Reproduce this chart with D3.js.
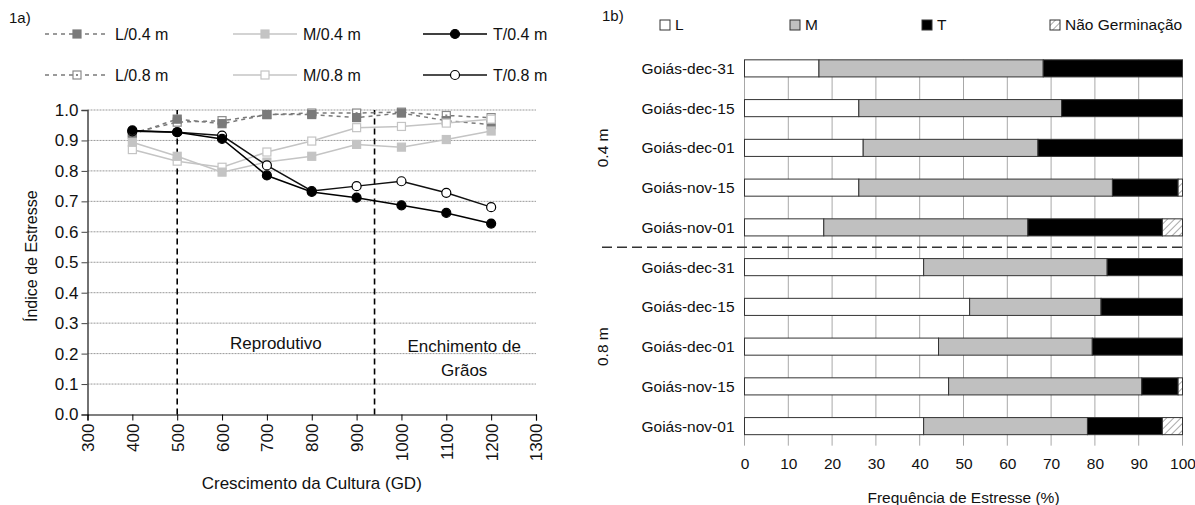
<!DOCTYPE html>
<html>
<head>
<meta charset="utf-8">
<script src="https://cdn.jsdelivr.net/npm/d3@7"></script>
<style>
  body { margin: 0; background: #fff; }
  svg { font-family: "Liberation Sans", Arial, sans-serif; }
</style>
</head>
<body>
<svg id="chart" width="1195" height="505"></svg>
<script>
// ---- 1a) stress index data ----
const gd = [400, 500, 600, 700, 800, 900, 1000, 1100, 1200];
const L04 = [0.92, 0.97, 0.955, 0.985, 0.985, 0.975, 0.99, 0.965, 0.952];
const M04 = [0.894, 0.848, 0.796, 0.829, 0.848, 0.887, 0.878, 0.903, 0.931];
const T04 = [0.933, 0.927, 0.905, 0.785, 0.731, 0.712, 0.687, 0.662, 0.627];
const L08 = [0.925, 0.96, 0.965, 0.985, 0.99, 0.99, 0.993, 0.982, 0.975];
const M08 = [0.87, 0.832, 0.812, 0.862, 0.898, 0.942, 0.946, 0.957, 0.97];
const T08 = [0.93, 0.927, 0.916, 0.818, 0.734, 0.75, 0.766, 0.728, 0.681];
const xTicks = [300, 400, 500, 600, 700, 800, 900, 1000, 1100, 1200, 1300];
const yTicks = [0, 0.1, 0.2, 0.3, 0.4, 0.5, 0.6, 0.7, 0.8, 0.9, 1.0];
const phaseLines = [500, 940];

// ---- 1b) stress frequency data ----
const dates = ["Goiás-dec-31", "Goiás-dec-15", "Goiás-dec-01", "Goiás-nov-15", "Goiás-nov-01"];
const depths = ["0.4 m", "0.8 m"];
const freqL04 = [17.0, 26.1, 27.1, 26.1, 18.1];
const freqM04 = [51.2, 46.3, 39.9, 57.9, 46.6];
const freqT04 = [31.8, 27.6, 33.0, 15.0, 30.7];
const freqN04 = [0, 0, 0, 1.0, 4.6];
const freqL08 = [40.9, 51.4, 44.3, 46.6, 40.9];
const freqM08 = [41.9, 30.0, 35.1, 44.1, 37.4];
const freqT08 = [17.2, 18.6, 20.6, 8.3, 17.1];
const freqN08 = [0, 0, 0, 1.0, 4.6];
const freqTicks = [0, 10, 20, 30, 40, 50, 60, 70, 80, 90, 100];

const svg = d3.select("#chart");

const defs = svg.append("defs");
const hatch = defs.append("pattern")
  .attr("id", "hatch")
  .attr("patternUnits", "userSpaceOnUse")
  .attr("width", 5).attr("height", 5)
  .attr("patternTransform", "rotate(45)");
hatch.append("rect").attr("width", 5).attr("height", 5).attr("fill", "#fff");
hatch.append("line").attr("x1", 0).attr("y1", 0).attr("x2", 0).attr("y2", 5)
  .attr("stroke", "#aaa").attr("stroke-width", 2);

// =================== LEFT PANEL ===================
const x = d3.scaleLinear().domain([300, 1300]).range([87.5, 536]);
const y = d3.scaleLinear().domain([0, 1]).range([414.5, 110]);

const left = svg.append("g");

// grid
left.append("g").selectAll("line")
  .data(yTicks.filter(d => d > 0))
  .enter().append("line")
  .attr("x1", x(300)).attr("x2", x(1300))
  .attr("y1", d => y(d)).attr("y2", d => y(d))
  .attr("stroke", "#999")
  .attr("stroke-dasharray", "2,1");

// axes
const yAxis = left.append("g")
  .attr("transform", "translate(" + x(300) + ",0)")
  .call(d3.axisLeft(y).tickValues(yTicks).tickFormat(d3.format(".1f")).tickSizeOuter(0).tickSize(6));
yAxis.select(".domain").attr("stroke", "#444").attr("stroke-width", 1.5);
yAxis.selectAll(".tick line").attr("stroke", "#444");
yAxis.selectAll("text").style("font-size", "17px").attr("fill", "#111").attr("x", -9);

const xAxis = left.append("g")
  .attr("transform", "translate(0," + y(0) + ")")
  .call(d3.axisBottom(x).tickValues(xTicks).tickFormat(d3.format("d")).tickSizeOuter(0).tickSize(6));
xAxis.select(".domain").attr("stroke", "#000").attr("stroke-width", 1.2);
xAxis.selectAll(".tick line").attr("stroke", "#000");
xAxis.selectAll("text")
  .style("font-size", "17px")
  .attr("fill", "#111")
  .attr("transform", "rotate(-90)")
  .attr("text-anchor", "end")
  .attr("x", -9).attr("y", 0).attr("dy", "0.35em");

// phase lines
left.append("g").selectAll("line")
  .data(phaseLines)
  .enter().append("line")
  .attr("x1", d => x(d)).attr("x2", d => x(d))
  .attr("y1", y(0)).attr("y2", y(1))
  .attr("stroke", "#000")
  .attr("stroke-width", 1.6)
  .attr("stroke-dasharray", "6,4");

left.append("text").attr("x", x(720)).attr("y", y(0.215))
  .attr("text-anchor", "middle").style("font-size", "17px").attr("fill", "#111").text("Reprodutivo");
left.append("text").attr("x", x(1140)).attr("y", y(0.205))
  .attr("text-anchor", "middle").style("font-size", "17px").attr("fill", "#111").text("Enchimento de");
left.append("text").attr("x", x(1140)).attr("y", y(0.128))
  .attr("text-anchor", "middle").style("font-size", "17px").attr("fill", "#111").text("Grãos");

left.append("text")
  .attr("transform", "translate(37," + y(0.52) + ") rotate(-90)")
  .attr("text-anchor", "middle").style("font-size", "16px").attr("fill", "#111")
  .text("Índice de Estresse");
left.append("text").attr("x", x(800)).attr("y", 489)
  .attr("text-anchor", "middle").style("font-size", "17px").attr("fill", "#111")
  .text("Crescimento da Cultura (GD)");

left.append("text").attr("x", 9).attr("y", 23).style("font-size", "15px").attr("fill", "#111").text("1a)");

// series
const series = [
  {name: "L/0.4 m", values: L04, line: "#7a7a7a", dash: "4,4", marker: "square", fill: "#7a7a7a", stroke: "#7a7a7a"},
  {name: "M/0.4 m", values: M04, line: "#c4c4c4", dash: null, marker: "square", fill: "#c4c4c4", stroke: "#c4c4c4"},
  {name: "T/0.4 m", values: T04, line: "#000", dash: null, marker: "circle", fill: "#000", stroke: "#000"},
  {name: "L/0.8 m", values: L08, line: "#7a7a7a", dash: "4,4", marker: "dotsquare", fill: "#fff", stroke: "#8a8a8a"},
  {name: "M/0.8 m", values: M08, line: "#c4c4c4", dash: null, marker: "square", fill: "#fff", stroke: "#c4c4c4"},
  {name: "T/0.8 m", values: T08, line: "#111", dash: null, marker: "circle", fill: "#fff", stroke: "#000"}
];

function drawMarker(g, s, cx, cy) {
  if (s.marker === "circle") {
    g.append("circle").attr("cx", cx).attr("cy", cy).attr("r", 4.5)
      .attr("fill", s.fill).attr("stroke", s.stroke).attr("stroke-width", 1.2);
  } else {
    g.append("rect").attr("x", cx - 4).attr("y", cy - 4).attr("width", 8).attr("height", 8)
      .attr("fill", s.fill).attr("stroke", s.stroke).attr("stroke-width", 1.2);
    if (s.marker === "dotsquare") {
      g.append("rect").attr("x", cx - 1).attr("y", cy - 1).attr("width", 2).attr("height", 2)
        .attr("fill", s.stroke);
    }
  }
}

const line = d3.line().x((d, i) => x(gd[i])).y(d => y(d));
const drawOrder = [3, 0, 4, 1, 5, 2];
drawOrder.forEach(k => {
  const s = series[k];
  const g = left.append("g");
  g.append("path").attr("d", line(s.values))
    .attr("fill", "none").attr("stroke", s.line).attr("stroke-width", 1.5)
    .attr("stroke-dasharray", s.dash);
  s.values.forEach((v, i) => drawMarker(g, s, x(gd[i]), y(v)));
});

// legend
const legCols = [45, 233, 423];
const legRows = [34, 75];
series.forEach((s, k) => {
  const lx = legCols[k % 3], ly = legRows[Math.floor(k / 3)];
  const g = left.append("g");
  g.append("line").attr("x1", lx).attr("x2", lx + 64).attr("y1", ly).attr("y2", ly)
    .attr("stroke", s.line).attr("stroke-width", 1.5).attr("stroke-dasharray", s.dash);
  drawMarker(g, s, lx + 32, ly);
  g.append("text").attr("x", lx + 70).attr("y", ly).attr("dy", "0.35em")
    .style("font-size", "16px").attr("fill", "#111").text(s.name);
});

// =================== RIGHT PANEL ===================
const rows = [];
depths.forEach(dep => dates.forEach(dt => rows.push(dep + "|" + dt)));
const freqs = [
  [freqL04, freqM04, freqT04, freqN04],
  [freqL08, freqM08, freqT08, freqN08]
];
const table = rows.map((r, i) => {
  const gi = Math.floor(i / 5), di = i % 5;
  return {id: r, L: freqs[gi][0][di], M: freqs[gi][1][di], T: freqs[gi][2][di], N: freqs[gi][3][di]};
});
const keys = ["L", "M", "T", "N"];
const keyLabels = ["L", "M", "T", "Não Germinação"];
const keyFill = {L: "#fff", M: "#c0c0c0", T: "#000", N: "url(#hatch)"};

const fx = d3.scaleLinear().domain([0, 100]).range([744.5, 1182.5]);
const fy = d3.scaleBand().domain(rows).range([48.5, 446]).paddingInner(0.57).paddingOuter(0.285);

const right = svg.append("g");

const gridTop = fy(rows[0]);
const gridBottom = fy(rows[rows.length - 1]) + fy.bandwidth() + 11;
right.append("g").selectAll("line")
  .data(freqTicks)
  .enter().append("line")
  .attr("x1", d => fx(d)).attr("x2", d => fx(d))
  .attr("y1", gridTop).attr("y2", gridBottom)
  .attr("stroke", "#a8a8a8").attr("stroke-width", 1);

const xAxisR = right.append("g")
  .attr("transform", "translate(0," + gridBottom + ")")
  .call(d3.axisBottom(fx).tickValues(freqTicks).tickSize(0).tickPadding(12));
xAxisR.select(".domain").remove();
xAxisR.selectAll("text").style("font-size", "15.5px").attr("fill", "#111");

const stack = d3.stack().keys(keys)(table);
right.append("g").selectAll("g")
  .data(stack)
  .enter().append("g")
  .attr("fill", d => keyFill[d.key])
  .selectAll("rect")
  .data(d => d)
  .enter().append("rect")
  .attr("x", d => fx(d[0]))
  .attr("width", d => fx(d[1]) - fx(d[0]))
  .attr("y", d => fy(d.data.id))
  .attr("height", fy.bandwidth())
  .attr("stroke", "#333")
  .attr("stroke-width", d => (d[1] - d[0]) > 0 ? 1 : 0);

// row labels
right.append("g").selectAll("text")
  .data(rows)
  .enter().append("text")
  .attr("x", fx(0) - 10)
  .attr("y", d => fy(d) + fy.bandwidth() / 2)
  .attr("dy", "0.35em")
  .attr("text-anchor", "end")
  .style("font-size", "15.5px").attr("fill", "#111")
  .text(d => d.split("|")[1]);

// group separator and depth labels
const sepY = (fy(rows[4]) + fy.bandwidth() + fy(rows[5])) / 2;
right.append("line")
  .attr("x1", 602).attr("x2", fx(100)).attr("y1", sepY).attr("y2", sepY)
  .attr("stroke", "#333").attr("stroke-width", 1.3).attr("stroke-dasharray", "10,5");

depths.forEach((dep, gi) => {
  const cy = (fy(rows[gi * 5]) + fy(rows[gi * 5 + 4]) + fy.bandwidth()) / 2;
  right.append("text")
    .attr("transform", "translate(603," + cy + ") rotate(-90)")
    .attr("text-anchor", "middle").attr("dy", "0.35em")
    .style("font-size", "15.5px").attr("fill", "#111")
    .text(dep);
});

right.append("text").attr("x", fx(50)).attr("y", 503)
  .attr("text-anchor", "middle").style("font-size", "15.5px").attr("fill", "#111")
  .text("Frequência de Estresse (%)");

right.append("text").attr("x", 602).attr("y", 21).style("font-size", "15px").attr("fill", "#111").text("1b)");

// legend
const legX = [660, 790, 922, 1050];
keys.forEach((k, i) => {
  right.append("rect").attr("x", legX[i]).attr("y", 20).attr("width", 10).attr("height", 10)
    .attr("fill", keyFill[k]).attr("stroke", "#333").attr("stroke-width", 1);
  right.append("text").attr("x", legX[i] + 15).attr("y", 25).attr("dy", "0.35em")
    .style("font-size", "15.5px").attr("fill", "#111").text(keyLabels[i]);
});
</script>
</body>
</html>
